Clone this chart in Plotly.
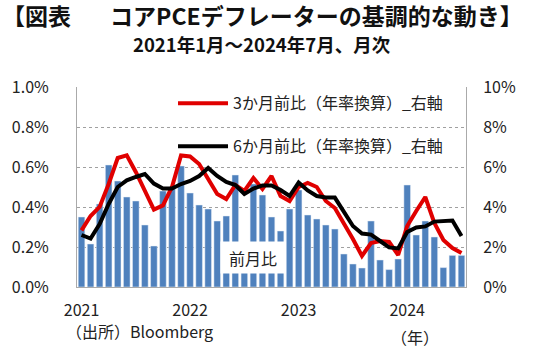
import plotly.graph_objects as go

months = [f"{y}-{m:02d}" for y in range(2021, 2025) for m in range(1, 13)][:43]

mom = [0.35, 0.215, 0.415, 0.61, 0.53, 0.45, 0.43, 0.31, 0.205, 0.48, 0.50, 0.605,
       0.47, 0.41, 0.39, 0.33, 0.355, 0.56, 0.21, 0.515, 0.46, 0.35, 0.28, 0.39,
       0.485, 0.36, 0.34, 0.31, 0.29, 0.165, 0.115, 0.095, 0.33, 0.135, 0.087, 0.14,
       0.51, 0.26, 0.33, 0.25, 0.097, 0.158, 0.158]

ann3m = [2.83, 3.55, 4.0, 5.15, 6.45, 6.58, 5.75, 4.83, 3.87, 4.08, 5.0, 6.58,
         6.53, 6.15, 5.35, 4.65, 4.4, 5.1, 4.8, 5.45, 4.9, 5.55, 4.55, 4.3,
         5.0, 5.2, 5.0, 4.3, 3.95, 3.2, 2.4, 1.55, 2.2, 2.3, 2.25, 1.6,
         3.05, 3.8, 4.5, 3.2, 2.35, 1.95, 1.7]

ann6m = [2.6, 2.42, 3.15, 4.15, 5.0, 5.33, 5.5, 5.65, 5.17, 4.92, 4.92, 5.15,
         5.3, 5.55, 5.95, 5.55, 5.25, 5.1, 4.65, 4.92, 5.08, 5.08, 4.85, 4.55,
         5.22, 4.83, 4.55, 4.48, 4.47, 3.75, 3.05, 2.67, 2.62, 2.3, 1.98, 1.93,
         2.75, 2.98, 3.03, 3.27, 3.3, 3.32, 2.55]

year_ticks = ["2021-01", "2022-01", "2023-01", "2024-01"]
year_labels = ["2021", "2022", "2023", "2024"]
left_ticks = [0, 0.2, 0.4, 0.6, 0.8, 1.0]
right_ticks = [0, 2, 4, 6, 8, 10]

FONT = "Noto Sans CJK JP"

fig = go.Figure()
fig.add_trace(go.Bar(x=months, y=mom, marker_color="#4F81BD", showlegend=False,
                     name="前月比", yaxis="y"))
fig.add_trace(go.Scatter(x=months, y=ann3m, mode="lines", line=dict(color="#E00000", width=4),
                         name="3か月前比（年率換算）_右軸", yaxis="y2", legend="legend"))
fig.add_trace(go.Scatter(x=months, y=ann6m, mode="lines", line=dict(color="#000000", width=4),
                         name="6か月前比（年率換算）_右軸", yaxis="y2", legend="legend2"))

fig.update_layout(
    width=540, height=354,
    margin=dict(l=73, r=74, t=87, b=67),
    paper_bgcolor="white", plot_bgcolor="white",
    font=dict(family=FONT, size=16, color="#222"),
    bargap=0.27,
    title=dict(text="<b>【図表\u3000\u2002\u2009コアPCEデフレーターの基調的な動き】</b>",
               x=2 / 540, xanchor="left", y=1 - 17 / 354, yanchor="middle",
               font=dict(size=23, color="#111")),
    xaxis=dict(type="category", range=[-0.5, 42.5], tickvals=year_ticks, ticktext=year_labels,
               showgrid=False, showline=True, linecolor="#AAAAAA", linewidth=1,
               ticks="", tickfont=dict(size=16), ticklabelstandoff=9),
    yaxis=dict(range=[0, 1.0], tickvals=left_ticks,
               ticktext=[f"{v:.1f}%" for v in left_ticks],
               showgrid=True, gridcolor="#A0A0A0", griddash="dot", gridwidth=1,
               showline=True, linecolor="#AAAAAA", linewidth=1, ticks="",
               ticklabelstandoff=24, zeroline=False),
    yaxis2=dict(range=[0, 10], tickvals=right_ticks,
                ticktext=[f"{v}%" for v in right_ticks],
                overlaying="y", side="right", showgrid=False,
                showline=True, linecolor="#AAAAAA", linewidth=1, ticks="",
                ticklabelstandoff=13, zeroline=False),
    legend=dict(x=(170 - 73) / 393, y=(286.7 - 103) / 200, xanchor="left", yanchor="middle",
                bgcolor="rgba(0,0,0,0)", font=dict(size=16), itemwidth=50),
    legend2=dict(x=(170 - 73) / 393, y=(286.7 - 146) / 200, xanchor="left", yanchor="middle",
                 bgcolor="rgba(0,0,0,0)", font=dict(size=16), itemwidth=50),
    annotations=[
        dict(text="<b>2021年1月～2024年7月、月次</b>", xref="paper", yref="paper",
             x=(260 - 73) / 393, y=(286.7 - 44) / 200, xanchor="center", yanchor="middle",
             showarrow=False, font=dict(size=18.5, color="#111")),
        dict(text="前月比", xref="paper", yref="paper",
             x=(250.5 - 73) / 393, y=(286.7 - 257) / 200, xanchor="center", yanchor="middle",
             showarrow=False, bgcolor="white", width=62, height=29, borderpad=1,
             font=dict(size=16)),
        dict(text="（出所）Bloomberg", xref="paper", yref="paper",
             x=(60 - 73) / 393, y=(286.7 - 331) / 200, xanchor="left", yanchor="middle",
             showarrow=False, font=dict(size=16)),
        dict(text="（年）", xref="paper", yref="paper",
             x=(414 - 73) / 393, y=(286.7 - 337) / 200, xanchor="center", yanchor="middle",
             showarrow=False, font=dict(size=16)),
    ],
)

fig.write_html("out.html")
